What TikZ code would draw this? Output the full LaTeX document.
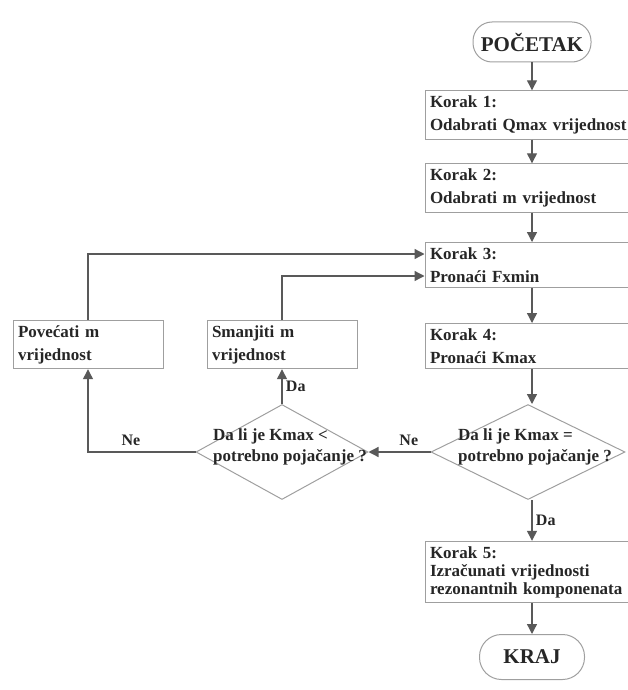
\documentclass[tikz,border=0pt]{standalone}
\usepackage{fontspec}
\setmainfont{Liberation Serif}
\usetikzlibrary{shapes.geometric,arrows.meta}
\begin{document}
\begin{tikzpicture}[x=1pt,y=-1pt,
    every node/.style={font=\bfseries\fontsize{17}{23}\selectfont, text=black!85},
    stepbox/.style={draw=gray!75, line width=1pt, minimum width=214pt, minimum height=44pt,
                    text width=204pt, align=left, inner sep=5pt},
    sidebox/.style={stepbox, minimum width=150pt, text width=140pt, minimum height=45pt},
    term/.style={draw=gray!75, line width=1pt, rounded corners=19pt, minimum height=40pt,
                 font=\bfseries\fontsize{21}{24}\selectfont},
    decide/.style={draw=gray!75, line width=1pt, diamond, inner sep=0pt},
    note/.style={font=\bfseries\fontsize{16}{18}\selectfont},
    flow/.style={draw=black!65, line width=1.3pt, -{Triangle[length=10pt,width=10pt]}}]
\useasboundingbox (0,0) rectangle (627,690);
\node[term, minimum width=118pt] (start) at (532,42) {POČETAK};
\node[stepbox] (b1) at (532,115) {Korak 1:\\Odabrati Qmax vrijednost};
\node[stepbox] (b2) at (532,188) {Korak 2:\\Odabrati m vrijednost};
\node[stepbox] (b3) at (532,265) {Korak 3:\\Pronaći Fxmin};
\node[stepbox] (b4) at (532,346) {Korak 4:\\Pronaći Kmax};
\node[decide, minimum width=194pt, minimum height=95pt,
      label={[align=left, xshift=7pt, yshift=5pt, font=\bfseries\fontsize{17}{21}\selectfont]center:Da li je Kmax =\\potrebno pojačanje ?}]
      (d1) at (528,452) {};
\node[stepbox, minimum height=58pt, font=\bfseries\fontsize{17}{18}\selectfont] (b5) at (532,572)
      {Korak 5:\\Izračunati vrijednosti\\rezonantnih komponenata};
\node[term, minimum width=105pt, minimum height=45pt, rounded corners=22pt] (end) at (532,657) {KRAJ};
\node[sidebox] (pov) at (88,344.5) {Povećati m\\vrijednost};
\node[sidebox] (sman) at (282,344.5) {Smanjiti m\\vrijednost};
\node[decide, minimum width=172pt, minimum height=95pt,
      label={[align=left, xshift=8pt, yshift=5pt, font=\bfseries\fontsize{17}{21}\selectfont]center:Da li je Kmax <\\potrebno pojačanje ?}]
      (d2) at (282,452) {};
\draw[flow] (start) -- (b1);
\draw[flow] (b1) -- (b2);
\draw[flow] (b2) -- (b3);
\draw[flow] (b3) -- (b4);
\draw[flow] (b4) -- (b4 |- d1.north);
\draw[flow] (d1.west) -- (d2.east) node[note, above, pos=0.35, yshift=2pt]{Ne};
\draw[flow] (d2.north) -- (sman.south) node[note, right, midway]{Da};
\draw[flow] (d2.west) -| (pov.south) node[note, above, pos=0.3, yshift=2pt]{Ne};
\draw[flow] (pov.north) |- ([yshift=11pt]b3.west);
\draw[flow] (sman.north) |- ([yshift=-11pt]b3.west);
\draw[flow] (d1.south -| b5) -- (b5) node[note, right, midway]{Da};
\draw[flow] (b5) -- (end);
\end{tikzpicture}
\end{document}
